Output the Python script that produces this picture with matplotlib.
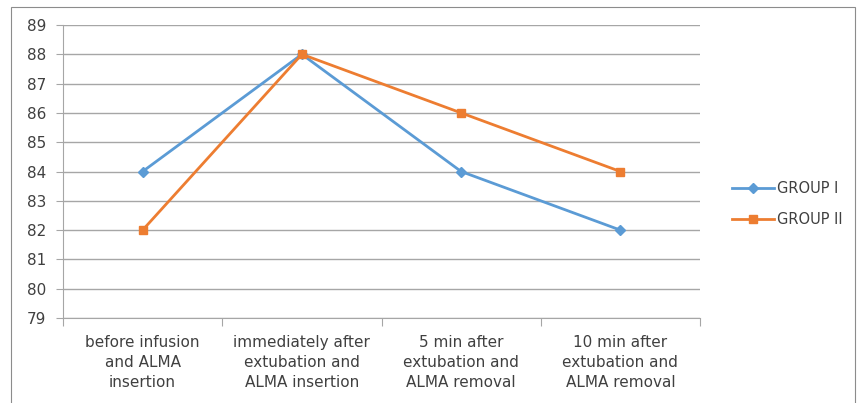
import matplotlib.pyplot as plt
from matplotlib.patches import Rectangle

# chart data
categories = ["before infusion\nand ALMA\ninsertion",
              "immediately after\nextubation and\nALMA insertion",
              "5 min after\nextubation and\nALMA removal",
              "10 min after\nextubation and\nALMA removal"]
group_1 = [84, 88, 84, 82]
group_2 = [82, 88, 86, 84]
y_ticks = list(range(79, 90))

fig = plt.figure(figsize=(8.61, 4.03), dpi=100)
ax = fig.add_axes([63 / 861, 1 - 318 / 403, (700 - 63) / 861, (318 - 25) / 403])

# outer chart border
fig.patches.append(Rectangle((11 / 861, -0.01), (855 - 11) / 861, 1 - 7 / 403 + 0.01,
                             transform=fig.transFigure, fill=False,
                             edgecolor="#8c8c8c", linewidth=0.8))

x = range(len(categories))
ax.plot(x, group_1, color="#5B9BD5", linewidth=2, marker="D", markersize=5, label="GROUP I")
ax.plot(x, group_2, color="#ED7D31", linewidth=2, marker="s", markersize=6, label="GROUP II")

ax.set_xlim(-0.5, len(categories) - 0.5)
ax.set_ylim(79, 89)
ax.set_yticks(y_ticks)
ax.yaxis.grid(True, color="#a6a6a6", linewidth=1)
ax.set_axisbelow(True)

# category labels between the boundary ticks
ax.set_xticks([i - 0.5 for i in range(len(categories) + 1)])
ax.set_xticklabels([])
ax.set_xticks(list(x), minor=True)
ax.set_xticklabels(categories, minor=True, fontsize=11, color="#404040", linespacing=1.45)
ax.tick_params(axis="x", which="minor", length=0, pad=12)
ax.tick_params(axis="x", which="major", length=6, color="#a6a6a6", direction="out")
ax.tick_params(axis="y", length=5, color="#a6a6a6", labelsize=11, labelcolor="#404040", pad=7)

for side in ["top", "right"]:
    ax.spines[side].set_visible(False)
for side in ["left", "bottom"]:
    ax.spines[side].set_color("#a6a6a6")

fig.legend(loc="center left", bbox_to_anchor=(719 / 861, 1 - 204 / 403), frameon=False,
           fontsize=10.5, labelcolor="#404040", handlelength=2.9, labelspacing=1.1,
           handletextpad=0.2)

fig.savefig("out.png", dpi=100)
